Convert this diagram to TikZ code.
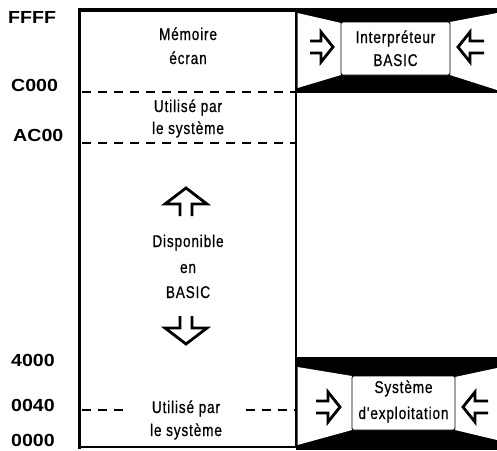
\documentclass[tikz,border=0pt]{standalone}
\usepackage{fontspec}
\setmainfont{Liberation Sans}
\newfontfamily\condfont[FakeStretch=0.8,LetterSpace=5,FakeBold=0.6]{Liberation Sans}
\newfontfamily\addrfont[FakeStretch=1.12]{Liberation Sans}
\begin{document}
\begin{tikzpicture}[x=1pt,y=-1pt]
\tikzset{
  dashline/.style={line width=1.3pt, dash pattern=on 9pt off 7pt},
  arr/.style={line width=2.8pt, line join=miter, miter limit=10},
  lbl/.style={font=\condfont\fontsize{17}{19}\selectfont, anchor=base, inner sep=0pt},
  addr/.style={font=\addrfont\bfseries\fontsize{17.5}{19}\selectfont, anchor=base west, inner sep=0pt},
  face/.style={draw=black, fill=white, line width=0.8pt, rounded corners=1.5pt, inner sep=0pt},
  hole/.style={fill=white},
}
\useasboundingbox (0,0) rectangle (497,450);
% black frames of the two right-hand boxes
\fill (296,8) rectangle (497,93);
\fill (296,357) rectangle (497,450);
% white side faces
\fill[hole] (297.5,13) -- (341,23) -- (341,75) -- (297.5,88) -- cycle;
\fill[hole] (450,22) -- (497,13) -- (497,90) -- (450,75) -- cycle;
\fill[hole] (297.5,367) -- (352,376) -- (352,430) -- (297.5,445) -- cycle;
\fill[hole] (455,377) -- (497,368) -- (497,440) -- (455,430) -- cycle;
% front faces
\node[face, minimum width=109pt, minimum height=53pt] (interp) at (395.5,48.5) {};
\node[face, minimum width=103pt, minimum height=54pt] (sysexp) at (403.5,403) {};
% main column
\draw[line width=2pt] (80,10) rectangle (296,447);
\draw[line width=3.5pt] (79.5,449) -- (79.5,10) -- (296,10);
% dashed boundaries
\draw[dashline] (82,92) -- (296,92);
\draw[dashline] (82,143) -- (296,143);
\draw[dashline] (82,410) -- (130,410);
\draw[dashline] (246,410) -- (296,410);
% arrows
\draw[arr] (180,216) -- (180,204) -- (165,204) -- (186,188) -- (207,204) -- (192,204) -- (192,216);
\draw[arr] (180,316) -- (180,328) -- (165,328) -- (186,344) -- (207,328) -- (192,328) -- (192,316);
\draw[arr] (310,41) -- (321,41) -- (321,32) -- (333,47) -- (321,62) -- (321,53) -- (310,53);
\draw[arr] (484,41) -- (470,41) -- (470,32) -- (458,47) -- (470,62) -- (470,53) -- (484,53);
\draw[arr] (316,401) -- (328,401) -- (328,392) -- (340,407) -- (328,422) -- (328,413) -- (316,413);
\draw[arr] (488,401) -- (475,401) -- (475,392) -- (463,407) -- (475,422) -- (475,413) -- (488,413);
% texts in column
\node[lbl] (mem1) at (188,40) {Mémoire};
\node[lbl] (mem2) at (188,64) {écran};
\node[lbl] (us1) at (188,112) {Utilisé par};
\node[lbl] (us2) at (188,134) {le système};
\node[lbl] (dis1) at (188,247) {Disponible};
\node[lbl] (dis2) at (188,273) {en};
\node[lbl] (dis3) at (188,298) {BASIC};
\node[lbl] (ub1) at (186,413) {Utilisé par};
\node[lbl] (ub2) at (186,436) {le système};
\node[lbl] (int1) at (395.5,43) {Interpréteur};
\node[lbl] (int2) at (395.5,66) {BASIC};
\node[lbl] (se1) at (403.5,393) {Système};
\node[lbl] (se2) at (403.5,419) {d'exploitation};
% addresses
\node[addr] (aFFFF) at (8,23) {FFFF};
\node[addr] (aC000) at (11,91) {C000};
\node[addr] (aAC00) at (13,141) {AC00};
\node[addr] (a4000) at (11,366) {4000};
\node[addr] (a0040) at (11,411) {0040};
\node[addr] (a0000) at (11,446.5) {0000};
\end{tikzpicture}
\end{document}
